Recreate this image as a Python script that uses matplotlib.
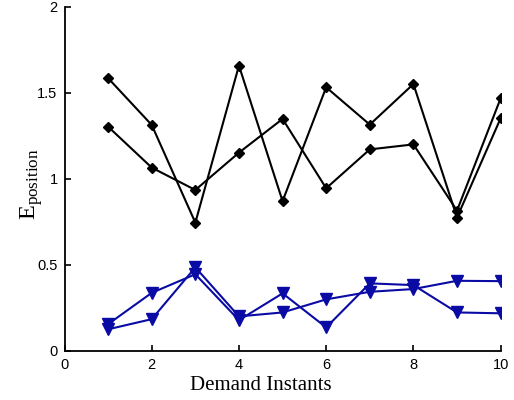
import matplotlib
matplotlib.use("Agg")
import matplotlib.pyplot as plt
from matplotlib.ticker import FixedLocator, FixedFormatter

plt.rcParams['mathtext.fontset'] = 'custom'
plt.rcParams['mathtext.rm'] = 'Liberation Serif'
plt.rcParams['mathtext.it'] = 'Liberation Serif:italic'

x = [1, 2, 3, 4, 5, 6, 7, 8, 9, 10]
black_a = [1.585, 1.313, 0.745, 1.658, 0.870, 1.532, 1.315, 1.551, 0.775, 1.352]
black_b = [1.303, 1.065, 0.935, 1.152, 1.348, 0.945, 1.171, 1.200, 0.815, 1.468]
blue_c = [0.155, 0.337, 0.445, 0.178, 0.334, 0.136, 0.392, 0.382, 0.223, 0.218]
blue_d = [0.125, 0.184, 0.485, 0.200, 0.223, 0.299, 0.343, 0.359, 0.407, 0.405]

xticks = [0, 2, 4, 6, 8, 10]
yticks = [0, 0.5, 1, 1.5, 2]
ytick_labels = ['0', '0.5', '1', '1.5', '2']
xlabel = 'Demand Instants'
ylabel = r'$\mathregular{E_{position}}$'

blue = '#0a0aa5'

fig = plt.figure(figsize=(5.14, 4.0), dpi=100)
ax = fig.add_axes([0.1255, 0.123, 0.8485, 0.860])

for s in (black_a, black_b):
    ax.plot(x, s, color='black', lw=1.5, marker='D', ms=5.5, mfc='black', mec='black')
for s in (blue_c, blue_d):
    ax.plot(x, s, color=blue, lw=1.5, marker='v', ms=8.5, mfc=blue, mec=blue)

ax.set_xlim(0, 10)
ax.set_ylim(0, 2)
ax.xaxis.set_major_locator(FixedLocator(xticks))
ax.yaxis.set_major_locator(FixedLocator(yticks))
ax.yaxis.set_major_formatter(FixedFormatter(ytick_labels))
ax.spines['top'].set_visible(False)
ax.spines['right'].set_visible(False)
for sp in ('left', 'bottom'):
    ax.spines[sp].set_linewidth(1.3)
ax.tick_params(direction='in', length=4, width=1.2, labelsize=10.5, pad=5)
for lbl in ax.get_xticklabels() + ax.get_yticklabels():
    lbl.set_fontfamily('Liberation Sans')

ax.set_xlabel(xlabel, family='Liberation Serif', fontsize=15)
ax.xaxis.set_label_coords(0.4505, -0.072)
ax.set_ylabel(ylabel, family='Liberation Serif', fontsize=17.5)
ax.yaxis.set_label_coords(-0.045, 0.485)

fig.savefig('out.png', dpi=100)
